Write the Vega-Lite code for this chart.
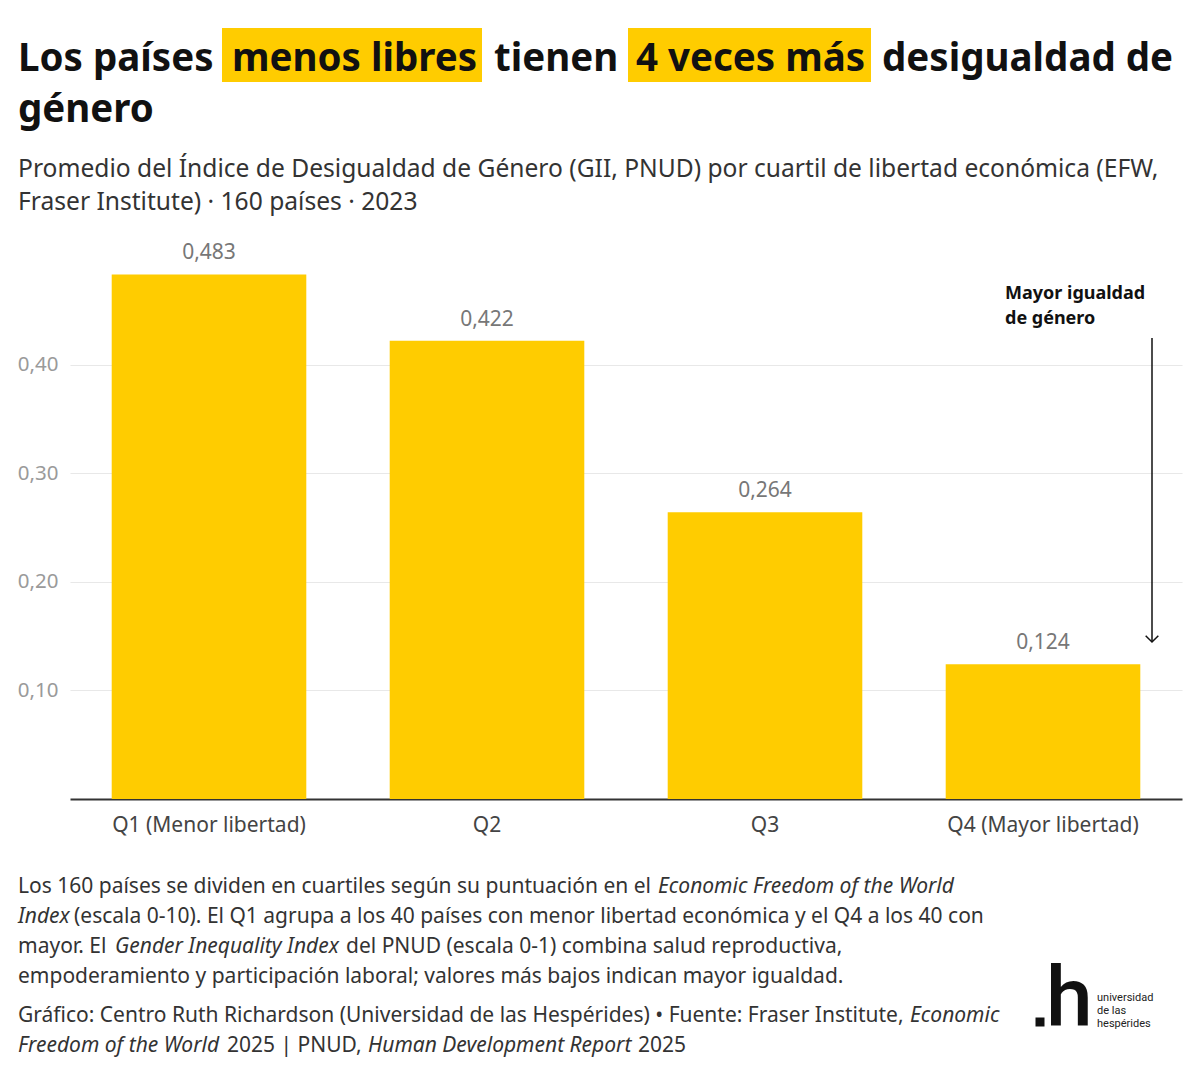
{
  "$schema": "https://vega.github.io/schema/vega-lite/v6.json",
  "autosize": "none",
  "width": 1112,
  "height": 543,
  "padding": {"left": 70, "top": 256, "right": 18, "bottom": 282},
  "background": "#ffffff",
  "config": {
    "view": {"stroke": null},
    "font": "Noto Sans",
    "locale": {"number": {"decimal": ",", "thousands": ".", "grouping": [3], "currency": ["", " €"]}},
    "text": {"font": "Noto Sans", "align": "left", "baseline": "alphabetic", "fontSize": 21, "color": "#333333"}
  },
  "data": {"values": [
    {"cuartil": "Q1 (Menor libertad)", "gii": 0.483},
    {"cuartil": "Q2", "gii": 0.422},
    {"cuartil": "Q3", "gii": 0.264},
    {"cuartil": "Q4 (Mayor libertad)", "gii": 0.124}
  ]},
  "layer": [
    {
      "mark": {"type": "bar", "color": "#FFCC00"},
      "encoding": {
        "x": {"field": "cuartil", "type": "nominal", "sort": null,
              "scale": {"paddingInner": 0.3, "paddingOuter": 0.15},
              "axis": {"title": null, "labelAngle": 0, "labelFont": "Noto Sans", "labelFontSize": 21, "labelColor": "#444444",
                       "labelPadding": 15, "labelLimit": 0, "ticks": false, "domain": true, "domainColor": "#333333", "domainWidth": 2, "grid": false}},
        "y": {"field": "gii", "type": "quantitative",
              "scale": {"domain": [0, 0.5], "nice": false, "zero": true},
              "axis": {"title": null, "values": [0.1, 0.2, 0.3, 0.4], "format": ".2f", "labelFont": "Noto Sans", "labelFontSize": 20.5,
                       "labelColor": "#9a9a9a", "labelPadding": 12, "ticks": false, "domain": false, "grid": true,
                       "gridColor": "#e8e8e8", "gridWidth": 1.2}}
      }
    },
    {
      "mark": {"type": "text", "align": "center", "baseline": "bottom", "dy": -11, "fontSize": 21, "color": "#777777"},
      "encoding": {
        "x": {"field": "cuartil", "type": "nominal", "sort": null},
        "y": {"field": "gii", "type": "quantitative"},
        "text": {"field": "gii", "type": "quantitative", "format": ".3f"}
      }
    },
    {"data": {"values": [{}]}, "mark": {"type": "rect", "color": "#FFCC00", "x": 152, "x2": 412, "y": -228, "y2": -174}, "encoding": {}},
    {"data": {"values": [{}]}, "mark": {"type": "rect", "color": "#FFCC00", "x": 558, "x2": 801, "y": -228, "y2": -174}, "encoding": {}},
    {"data": {"values": [{}]}, "mark": {"type": "text", "text": "Los países", "x": -52, "y": -185, "fontSize": 38.5, "fontWeight": "bold", "color": "#111111"}, "encoding": {}},
    {"data": {"values": [{}]}, "mark": {"type": "text", "text": "menos libres", "x": 162, "y": -185, "fontSize": 38.5, "fontWeight": "bold", "color": "#111111"}, "encoding": {}},
    {"data": {"values": [{}]}, "mark": {"type": "text", "text": "tienen", "x": 424, "y": -185, "fontSize": 38.5, "fontWeight": "bold", "color": "#111111"}, "encoding": {}},
    {"data": {"values": [{}]}, "mark": {"type": "text", "text": "4 veces más", "x": 566, "y": -185, "fontSize": 38.5, "fontWeight": "bold", "color": "#111111"}, "encoding": {}},
    {"data": {"values": [{}]}, "mark": {"type": "text", "text": "desigualdad de", "x": 812, "y": -185, "fontSize": 38.5, "fontWeight": "bold", "color": "#111111"}, "encoding": {}},
    {"data": {"values": [{}]}, "mark": {"type": "text", "text": "género", "x": -52, "y": -134, "fontSize": 38.5, "fontWeight": "bold", "color": "#111111"}, "encoding": {}},
    {"data": {"values": [{}]}, "mark": {"type": "text", "text": "Promedio del Índice de Desigualdad de Género (GII, PNUD) por cuartil de libertad económica (EFW,", "x": -52, "y": -79, "fontSize": 24.6, "color": "#333333"}, "encoding": {}},
    {"data": {"values": [{}]}, "mark": {"type": "text", "text": "Fraser Institute) · 160 países · 2023", "x": -52, "y": -46, "fontSize": 24.6, "color": "#333333"}, "encoding": {}},
    {"data": {"values": [{}]}, "mark": {"type": "text", "text": "Mayor igualdad", "x": 935, "y": 43, "fontSize": 18, "fontWeight": "bold", "color": "#111111"}, "encoding": {}},
    {"data": {"values": [{}]}, "mark": {"type": "text", "text": "de género", "x": 935, "y": 68, "fontSize": 18, "fontWeight": "bold", "color": "#111111"}, "encoding": {}},
    {"data": {"values": [{}]}, "mark": {"type": "rule", "color": "#111111", "strokeWidth": 1.5}, "encoding": {"x": {"value": 1082}, "y": {"value": 82}, "y2": {"value": 386}}},
    {"data": {"values": [{}]}, "mark": {"type": "point", "shape": "M-1,-1L0,0L1,-1", "x": 1082, "y": 386, "size": 160, "filled": false, "color": "#111111", "strokeWidth": 1.5, "opacity": 1}, "encoding": {}},
    {"data": {"values": [{}]}, "mark": {"type": "text", "text": "Los 160 países se dividen en cuartiles según su puntuación en el", "x": -52, "y": 637}, "encoding": {}},
    {"data": {"values": [{}]}, "mark": {"type": "text", "text": "Economic Freedom of the World", "fontStyle": "italic", "x": 588, "y": 637}, "encoding": {}},
    {"data": {"values": [{}]}, "mark": {"type": "text", "text": "Index", "fontStyle": "italic", "x": -52, "y": 667}, "encoding": {}},
    {"data": {"values": [{}]}, "mark": {"type": "text", "text": "(escala 0-10). El Q1 agrupa a los 40 países con menor libertad económica y el Q4 a los 40 con", "x": 4, "y": 667}, "encoding": {}},
    {"data": {"values": [{}]}, "mark": {"type": "text", "text": "mayor. El", "x": -52, "y": 697}, "encoding": {}},
    {"data": {"values": [{}]}, "mark": {"type": "text", "text": "Gender Inequality Index", "fontStyle": "italic", "x": 45, "y": 697}, "encoding": {}},
    {"data": {"values": [{}]}, "mark": {"type": "text", "text": "del PNUD (escala 0-1) combina salud reproductiva,", "x": 276, "y": 697}, "encoding": {}},
    {"data": {"values": [{}]}, "mark": {"type": "text", "text": "empoderamiento y participación laboral; valores más bajos indican mayor igualdad.", "x": -52, "y": 727}, "encoding": {}},
    {"data": {"values": [{}]}, "mark": {"type": "text", "text": "Gráfico: Centro Ruth Richardson (Universidad de las Hespérides) • Fuente: Fraser Institute,", "x": -52, "y": 766}, "encoding": {}},
    {"data": {"values": [{}]}, "mark": {"type": "text", "text": "Economic", "fontStyle": "italic", "x": 840, "y": 766}, "encoding": {}},
    {"data": {"values": [{}]}, "mark": {"type": "text", "text": "Freedom of the World", "fontStyle": "italic", "x": -52, "y": 796}, "encoding": {}},
    {"data": {"values": [{}]}, "mark": {"type": "text", "text": "2025 | PNUD,", "x": 157, "y": 796}, "encoding": {}},
    {"data": {"values": [{}]}, "mark": {"type": "text", "text": "Human Development Report", "fontStyle": "italic", "x": 298, "y": 796}, "encoding": {}},
    {"data": {"values": [{}]}, "mark": {"type": "text", "text": "2025", "x": 568, "y": 796}, "encoding": {}},
    {"data": {"values": [{}]}, "mark": {"type": "point", "shape": "square", "x": 970, "y": 766, "size": 81, "filled": true, "color": "#111111", "opacity": 1}, "encoding": {}},
    {"data": {"values": [{}]}, "mark": {"type": "text", "text": "h", "font": "Roboto", "fontWeight": 500, "x": 976, "y": 770, "fontSize": 84, "color": "#111111"}, "encoding": {}},
    {"data": {"values": [{}]}, "mark": {"type": "text", "text": "universidad", "font": "Roboto", "x": 1027, "y": 745, "fontSize": 11, "color": "#222222"}, "encoding": {}},
    {"data": {"values": [{}]}, "mark": {"type": "text", "text": "de las", "font": "Roboto", "x": 1027, "y": 758, "fontSize": 11, "color": "#222222"}, "encoding": {}},
    {"data": {"values": [{}]}, "mark": {"type": "text", "text": "hespérides", "font": "Roboto", "x": 1027, "y": 771, "fontSize": 11, "color": "#222222"}, "encoding": {}}
  ]
}
